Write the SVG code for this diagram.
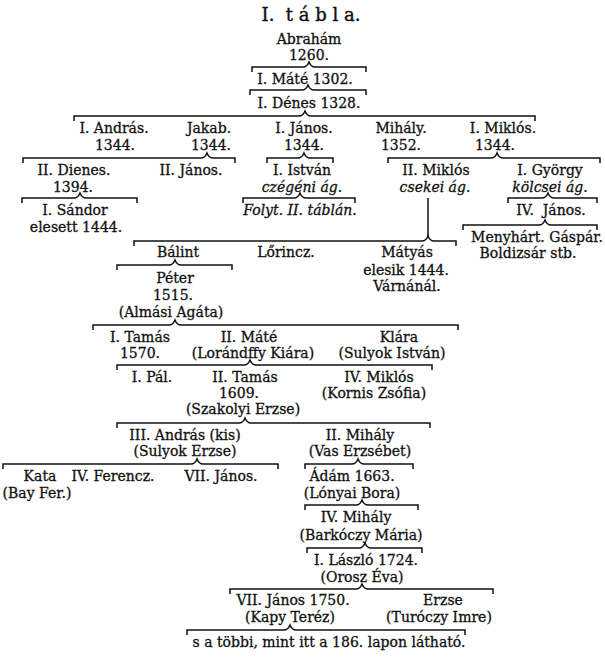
<svg xmlns="http://www.w3.org/2000/svg" width="605" height="661" viewBox="0 0 605 661">
<style>
text{font-family:"DejaVu Serif","Liberation Serif",serif;font-size:14px;fill:#111;stroke:#111;stroke-width:0.3;text-anchor:middle}
.t{font-size:18px;stroke-width:0.4}
.i{font-style:italic;font-size:14px}
.b{fill:none;stroke:#111;stroke-width:1.5;stroke-linejoin:miter}
</style>
<rect width="605" height="661" fill="#fff"/>
<g id="connectors">
<path class="b" d="M252,72V67H303Q307,67 309,62Q311,67 315,67H366V72"/>
<path class="b" d="M250,95V90H302Q306,90 308,85Q310,90 314,90H366V95"/>
<path class="b" d="M74,121V116H299Q303,116 305,111Q307,116 311,116H535V121"/>
<path class="b" d="M23,163V158H201Q205,158 207,153Q209,158 213,158H235V163"/>
<path class="b" d="M267,163V158H298Q302,158 304,153Q306,158 310,158H333V163"/>
<path class="b" d="M388,163V158H491Q495,158 497,153Q499,158 503,158H600V163"/>
<path class="b" d="M22,203V198H74Q78,198 80,193Q82,198 86,198H137V203"/>
<path class="b" d="M243,203V198H294Q298,198 300,193Q302,198 306,198H355V203"/>
<path class="b" d="M508,203V198H542Q546,198 548,193Q550,198 554,198H597V203"/>
<path class="b" d="M428,198V236"/>
<path class="b" d="M463,230V225H539Q543,225 545,220Q547,225 551,225H597V230"/>
<path class="b" d="M134,246V241H422Q426,241 428,236Q430,241 434,241H456V246"/>
<path class="b" d="M117,270V265H169Q173,265 175,260Q177,265 181,265H232V270"/>
<path class="b" d="M93,330V325H169Q173,325 175,320Q177,325 181,325H458V330"/>
<path class="b" d="M117,370V365H244Q248,365 250,360Q252,365 256,365H432V370"/>
<path class="b" d="M117,428V423H239Q243,423 245,418Q247,423 251,423H430V428"/>
<path class="b" d="M3,469V464H191Q195,464 197,459Q199,464 203,464H278V469"/>
<path class="b" d="M305,469V464H352Q356,464 358,459Q360,464 364,464H413V469"/>
<path class="b" d="M305,510V505H356Q360,505 362,500Q364,505 368,505H418V510"/>
<path class="b" d="M307,553V548H359Q363,548 365,543Q367,548 371,548H422V553"/>
<path class="b" d="M230,594V589H356Q360,589 362,584Q364,589 368,589H493V594"/>
<path class="b" d="M187,635V630H284Q288,630 290,625Q292,630 296,630H465V635"/>
</g>
<g id="title"><text class="t" x="311" y="21">I.&#160; t á b l a.</text></g>
<g id="abraham"><text x="309" y="44">Abrahám</text><text x="309" y="60">1260.</text></g>
<g id="mate1"><text x="305" y="84">I. Máté 1302.</text></g>
<g id="denes1"><text x="309" y="108">I. Dénes 1328.</text></g>
<g id="andras1"><text x="114" y="133">I. András.</text><text x="115" y="150">1344.</text></g>
<g id="jakab"><text x="209" y="133">Jakab.</text><text x="211" y="150">1344.</text></g>
<g id="janos1"><text x="304" y="133">I. János.</text><text x="304" y="150">1344.</text></g>
<g id="mihaly1"><text x="401" y="133">Mihály.</text><text x="401" y="150">1352.</text></g>
<g id="miklos1"><text x="503" y="133">I. Miklós.</text><text x="495" y="150">1344.</text></g>
<g id="dienes2"><text x="74" y="175">II. Dienes.</text><text x="73" y="192">1394.</text></g>
<g id="janos2"><text x="191" y="175">II. János.</text></g>
<g id="istvan1"><text x="302" y="175">I. István</text><text class="i" x="302" y="192">czégéni ág.</text></g>
<g id="miklos2"><text x="436" y="175">II. Miklós</text><text class="i" x="435" y="192">csekei ág.</text></g>
<g id="gyorgy1"><text x="550" y="175">I. György</text><text class="i" x="550" y="192">kölcsei ág.</text></g>
<g id="sandor1"><text x="75" y="215">I. Sándor</text><text x="76" y="232">elesett 1444.</text></g>
<g id="folyt"><text class="i" x="300" y="215">Folyt. II. táblán.</text></g>
<g id="janos4"><text x="551" y="215">IV.&#160; János.</text></g>
<g id="menyhart"><text x="537" y="242">Menyhárt. Gáspár.</text><text x="528" y="258">Boldizsár stb.</text></g>
<g id="balint"><text x="178" y="257">Bálint</text></g>
<g id="lorincz"><text x="286" y="257">Lőrincz.</text></g>
<g id="matyas"><text x="407" y="257">Mátyás</text><text x="406" y="275">elesik 1444.</text><text x="407" y="291">Várnánál.</text></g>
<g id="peter"><text x="175" y="283">Péter</text><text x="173" y="300">1515.</text><text x="171" y="317">(Almási Agáta)</text></g>
<g id="tamas1"><text x="140" y="342">I. Tamás</text><text x="140" y="358">1570.</text></g>
<g id="mate2"><text x="249" y="342">II. Máté</text><text x="253" y="358">(Lorándffy Kiára)</text></g>
<g id="klara"><text x="399" y="342">Klára</text><text x="392" y="358">(Sulyok István)</text></g>
<g id="pal1"><text x="152" y="382">I. Pál.</text></g>
<g id="tamas2"><text x="245" y="382">II. Tamás</text><text x="239" y="398">1609.</text><text x="243" y="414">(Szakolyi Erzse)</text></g>
<g id="miklos4"><text x="379" y="382">IV. Miklós</text><text x="374" y="398">(Kornis Zsófia)</text></g>
<g id="andras3"><text x="185" y="440">III. András (kis)</text><text x="185" y="456">(Sulyok Erzse)</text></g>
<g id="mihaly2"><text x="360" y="440">II. Mihály</text><text x="360" y="456">(Vas Erzsébet)</text></g>
<g id="kata"><text x="40" y="481">Kata</text><text x="37" y="498">(Bay Fer.)</text></g>
<g id="ferencz4"><text x="113" y="481">IV. Ferencz.</text></g>
<g id="janos7a"><text x="221" y="481">VII. János.</text></g>
<g id="adam"><text x="352" y="481">Ádám 1663.</text><text x="352" y="498">(Lónyai Bora)</text></g>
<g id="mihaly4"><text x="356" y="522">IV. Mihály</text><text x="361" y="540">(Barkóczy Mária)</text></g>
<g id="laszlo1"><text x="366" y="565">I. László 1724.</text><text x="362" y="582">(Orosz Éva)</text></g>
<g id="janos7b"><text x="293" y="605">VII. János 1750.</text><text x="290" y="622">(Kapy Teréz)</text></g>
<g id="erzse"><text x="443" y="605">Erzse</text><text x="439" y="622">(Turóczy Imre)</text></g>
<g id="tobbi"><text x="329" y="647">s a többi, mint itt a 186. lapon látható.</text></g>
</svg>
